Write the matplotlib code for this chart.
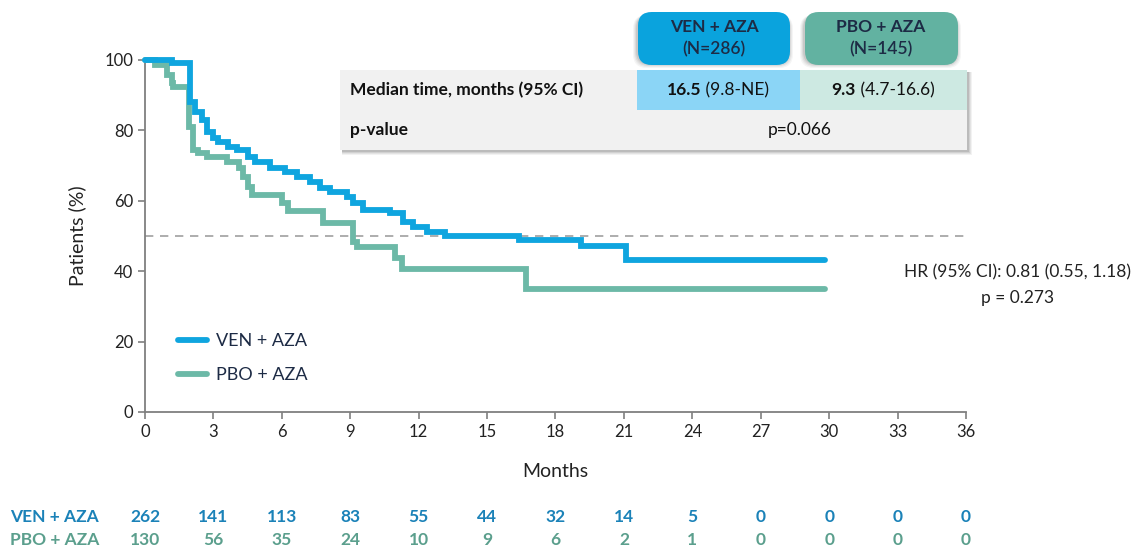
import matplotlib
matplotlib.use("Agg")
import matplotlib.pyplot as plt
from matplotlib.patches import FancyBboxPatch, Rectangle
from matplotlib.transforms import blended_transform_factory

plt.rcParams['font.family'] = ['Lato', 'DejaVu Sans']

# Kaplan-Meier step data (months, % of patients)
ven_t = [0, 1.18, 1.97, 2.19, 2.49, 2.71, 3.0, 3.2, 3.64, 4.02, 4.52, 4.82, 5.48,
         6.14, 6.65, 7.24, 7.68, 8.11, 8.85, 9.14, 9.58, 10.75, 11.32, 11.75,
         12.35, 13.15, 16.4, 19.1, 21.1, 29.8]
ven_s = [100, 99.2, 88.2, 85.3, 83.0, 79.6, 77.8, 76.8, 75.4, 74.4, 72.5, 71.1, 69.3,
         68.3, 66.8, 65.4, 63.5, 62.6, 61.2, 59.3, 57.4, 56.4, 54.1, 52.6,
         51.2, 50.0, 48.9, 47.2, 43.2, 43.2]

pbo_t = [0, 0.44, 0.96, 1.18, 1.23, 1.93, 2.1, 2.32, 2.72, 3.6, 4.1, 4.3, 4.5, 4.69,
         6.0, 6.27, 7.8, 9.1, 9.3, 10.96, 11.27, 16.7, 29.8]
pbo_s = [100, 98.6, 95.7, 93.5, 92.3, 81.0, 74.4, 73.6, 72.4, 71.0, 69.3, 66.8, 64.0,
         61.6, 59.4, 57.1, 53.7, 48.3, 46.9, 43.7, 40.5, 34.9, 34.9]

arms = ["VEN + AZA", "PBO + AZA"]
arm_n = [286, 145]
median_val = ["16.5", "9.3"]
median_ci = [" (9.8-NE)", " (4.7-16.6)"]
p_value_text = "p=0.066"
hr_lines = ["HR (95% CI): 0.81 (0.55, 1.18)", "p = 0.273"]

x_ticks = [0, 3, 6, 9, 12, 15, 18, 21, 24, 27, 30, 33, 36]
y_ticks = [0, 20, 40, 60, 80, 100]
ven_risk = [262, 141, 113, 83, 55, 44, 32, 14, 5, 0, 0, 0, 0]
pbo_risk = [130, 56, 35, 24, 10, 9, 6, 2, 1, 0, 0, 0, 0]

BLUE = "#0FA5DF"
TEAL = "#6CB9A7"
BLUE_DARK = "#1B82B8"
TEAL_DARK = "#5B9F8D"
NAVY = "#1D2B45"
TXT = "#222222"

W, H = 1146, 548
fig = plt.figure(figsize=(W / 100, H / 100), dpi=100)


def fx(px):
    return px / W


def fy(py):
    return 1 - py / H


ax = fig.add_axes([fx(145), fy(412), fx(966) - fx(145), fy(60) - fy(412)])
ax.set_xlim(0, 36)
ax.set_ylim(0, 100)

ax.axhline(50, color="#A0A0A0", lw=1.2, ls=(0, (5, 4)), zorder=1)
ax.step(pbo_t, pbo_s, where="post", color=TEAL, lw=4.2, solid_capstyle="round",
        solid_joinstyle="miter", label=arms[1], zorder=3, clip_on=False)
ax.step(ven_t, ven_s, where="post", color=BLUE, lw=4.2, solid_capstyle="round",
        solid_joinstyle="miter", label=arms[0], zorder=4, clip_on=False)

for s in ["top", "right"]:
    ax.spines[s].set_visible(False)
for s in ["left", "bottom"]:
    ax.spines[s].set_color("#7F7F7F")
    ax.spines[s].set_linewidth(1.3)
ax.set_xticks(x_ticks)
ax.set_yticks(y_ticks)
ax.tick_params(axis="both", colors="#7F7F7F", labelcolor=TXT, labelsize=12,
               length=5, width=1.2)
ax.set_xlabel("Months", fontsize=14, color=TXT, labelpad=17)
ax.set_ylabel("Patients (%)", fontsize=14, color=TXT, labelpad=13)

h_ven, = ax.plot([], [], color=BLUE, lw=4.2, solid_capstyle="round")
h_pbo, = ax.plot([], [], color=TEAL, lw=4.2, solid_capstyle="round")
ax.legend([h_ven, h_pbo], arms, frameon=False, fontsize=13, loc="lower left",
          bbox_to_anchor=(0.02, 0.035), handlelength=1.6, handletextpad=0.55,
          labelspacing=1.0, labelcolor=NAVY)

# hazard ratio annotation
fig.text(fx(1018), fy(272), hr_lines[0], ha="center", va="center", fontsize=12.5, color=TXT)
fig.text(fx(1018), fy(298), hr_lines[1], ha="center", va="center", fontsize=12.5, color=TXT)

# numbers at risk
tr = blended_transform_factory(ax.transData, fig.transFigure)
for y_px, label, vals, col in [(517, arms[0], ven_risk, BLUE_DARK),
                                (540, arms[1], pbo_risk, TEAL_DARK)]:
    fig.text(fx(10), fy(y_px), label, ha="left", va="center", fontsize=12.5,
             fontweight="bold", color=col)
    for xv, v in zip(x_ticks, vals):
        ax.text(xv, fy(y_px), str(v), transform=tr, ha="center", va="center",
                fontsize=12.5, fontweight="bold", color=col, clip_on=False)


# summary table
def frect(x0, y0, x1, y1, **kw):
    r = Rectangle((fx(x0), fy(y1)), fx(x1) - fx(x0), fy(y0) - fy(y1),
                  transform=fig.transFigure, **kw)
    fig.add_artist(r)
    return r


def fround(x0, y0, x1, y1, **kw):
    r = FancyBboxPatch((fx(x0), fy(y1)), fx(x1) - fx(x0), fy(y0) - fy(y1),
                       boxstyle="round,pad=0,rounding_size=0.012",
                       transform=fig.transFigure, mutation_aspect=W / H, **kw)
    fig.add_artist(r)
    return r


# soft drop shadows
for i, a in enumerate([0.05, 0.06, 0.08, 0.10]):
    d = 5 - i
    frect(340 + 2, 70 + 2, 967 + d, 150 + d, facecolor="#000000", alpha=a,
          edgecolor="none", zorder=5)
    fround(638 - 5 + i, 12 + 3, 790 + d - 2, 65 + d - 2, facecolor="#000000",
           alpha=a * 0.8, edgecolor="none", zorder=5)
    fround(805 - 5 + i, 12 + 3, 958 + d - 2, 65 + d - 2, facecolor="#000000",
           alpha=a * 0.8, edgecolor="none", zorder=5)

frect(340, 70, 967, 150, facecolor="#F1F1F1", edgecolor="none", zorder=6)
frect(637, 70, 800, 110, facecolor="#8BD5F6", edgecolor="none", zorder=7)
frect(800, 70, 967, 110, facecolor="#CDE9E2", edgecolor="none", zorder=7)
fround(638, 12, 790, 65, facecolor="#0AA3DD", edgecolor="none", zorder=7)
fround(805, 12, 958, 65, facecolor="#62B2A1", edgecolor="none", zorder=7)

for cx, arm, n in [(714, arms[0], arm_n[0]), (881, arms[1], arm_n[1])]:
    fig.text(fx(cx), fy(27), arm, ha="center", va="center", fontsize=12.5,
             fontweight="bold", color=NAVY, zorder=8)
    fig.text(fx(cx), fy(49), f"(N={n})", ha="center", va="center", fontsize=12.5,
             fontweight="semibold", color=NAVY, zorder=8)

fig.text(fx(350), fy(90), "Median time, months (95% CI)", ha="left", va="center",
         fontsize=12.5, fontweight="bold", color="#111111", zorder=8)
fig.text(fx(350), fy(130), "p-value", ha="left", va="center",
         fontsize=12.5, fontweight="bold", color="#111111", zorder=8)
fig.text(fx(800), fy(130), p_value_text, ha="center", va="center",
         fontsize=12.5, color="#111111", zorder=8)

# bold median followed by regular CI, centred in each cell
renderer = fig.canvas.get_renderer()
for cx, mv, ci in [(718, median_val[0], median_ci[0]), (883, median_val[1], median_ci[1])]:
    t1 = fig.text(0, fy(90), mv, ha="left", va="center", fontsize=12.5,
                  fontweight="bold", color="#111111", zorder=8)
    t2 = fig.text(0, fy(90), ci, ha="left", va="center", fontsize=12.5,
                  color="#111111", zorder=8)
    w1 = t1.get_window_extent(renderer).width
    w2 = t2.get_window_extent(renderer).width
    x0 = cx - (w1 + w2) / 2
    t1.set_x(fx(x0))
    t2.set_x(fx(x0 + w1))

fig.savefig("out.png", dpi=100, facecolor="white")
